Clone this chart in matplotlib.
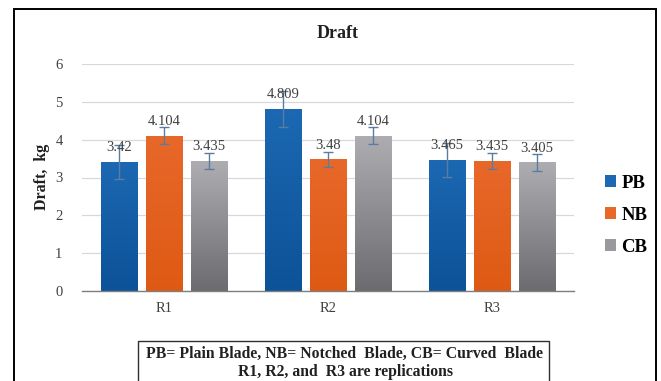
import numpy as np
import matplotlib
matplotlib.use("Agg")
import matplotlib.pyplot as plt
from matplotlib.patches import Patch, Rectangle
from matplotlib.colors import LinearSegmentedColormap

categories = ["R1", "R2", "R3"]
series_names = ["PB", "NB", "CB"]
pb = [3.42, 4.809, 3.465]
nb = [4.104, 3.48, 3.435]
cb = [3.435, 4.104, 3.405]
pb_err = [0.45, 0.47, 0.46]
nb_err = [0.22, 0.20, 0.22]
cb_err = [0.22, 0.22, 0.22]
value_labels_pb = ["3.42", "4.809", "3.465"]
value_labels_nb = ["4.104", "3.48", "3.435"]
value_labels_cb = ["3.435", "4.104", "3.405"]
yticks = [0, 1, 2, 3, 4, 5, 6]

serif = ["Liberation Serif", "DejaVu Serif"]
plt.rcParams["font.family"] = serif

W, H = 661, 381
fig = plt.figure(figsize=(W / 100, H / 100), dpi=100)

# outer frame
fig.patches.append(Rectangle((14 / W, -0.05), (656 - 14) / W, (H - 9) / H + 0.05,
                             transform=fig.transFigure, fill=False,
                             edgecolor="black", linewidth=1.4, zorder=0))

ax = fig.add_axes([82 / W, (H - 291) / H, (574 - 82) / W, (291 - 64) / H])
ax.set_xlim(-0.5, 2.5)
ax.set_ylim(0, 6)
ax.set_yticks(yticks)
ax.set_yticklabels([str(t) for t in yticks], fontsize=10.5, color="#404040")
ax.set_xticks(range(len(categories)))
ax.set_xticklabels(categories, fontsize=10.5, color="#404040")
ax.tick_params(length=0, pad=8)
ax.tick_params(axis="y", pad=14)
for s in ["top", "right", "left"]:
    ax.spines[s].set_visible(False)
ax.spines["bottom"].set_color("#7f7f7f")
ax.spines["bottom"].set_linewidth(1.0)
ax.yaxis.grid(True, color="#d9d9d9", linewidth=0.9)
ax.set_axisbelow(True)

x = np.arange(len(categories))
bw = 0.22
off = 0.274
grads = {
    "PB": ("#1c68b2", "#0c5298"),
    "NB": ("#e8682a", "#de5a14"),
    "CB": ("#aeaeb2", "#6c6c70"),
}
data = [(pb, pb_err, value_labels_pb), (nb, nb_err, value_labels_nb), (cb, cb_err, value_labels_cb)]
for i, (name, (vals, errs, labs)) in enumerate(zip(series_names, data)):
    pos = x + (i - 1) * off
    top_c, bot_c = grads[name]
    bars = ax.bar(pos, vals, width=bw, color=top_c, zorder=2)
    cmap = LinearSegmentedColormap.from_list(name, [bot_c, top_c])
    grad = np.linspace(0, 1, 256).reshape(-1, 1)
    for b in bars:
        x0, y0 = b.get_x(), b.get_y()
        im = ax.imshow(grad, cmap=cmap, origin="lower", aspect="auto",
                       extent=[x0, x0 + b.get_width(), y0, y0 + b.get_height()], zorder=2.1)
        im.set_clip_path(b)
    ax.errorbar(pos, vals, yerr=errs, fmt="none", ecolor="#5a7ca0", elinewidth=1.0,
                capsize=3.5, capthick=1.0, zorder=4)
    for p, v, l in zip(pos, vals, labs):
        ax.text(p, v + 0.2, l, ha="center", va="bottom", fontsize=10.5, color="#404040", zorder=5)
ax.set_xlim(-0.5, 2.5)
ax.set_ylim(0, 6)

fig.text(338 / W, 1 - 33 / H, "Draft", ha="center", va="center", fontsize=13,
         fontweight="bold", color="#202020")
fig.text(42 / W, 1 - 177 / H, "Draft,  kg", ha="center", va="center", rotation=90,
         fontsize=11.5, fontweight="bold", color="#202020")

handles = [Patch(facecolor=grads[n][0] if n != "CB" else "#9a9a9e", edgecolor="none") for n in series_names]
leg = fig.legend(handles, series_names, loc="center left",
                 bbox_to_anchor=(596 / W, 1 - 215 / H), frameon=False,
                 prop={"family": serif, "weight": "bold", "size": 13.5},
                 handlelength=0.55, handleheight=0.55, handletextpad=0.3,
                 labelspacing=0.8, borderpad=0)

# note box
fig.patches.append(Rectangle((138 / W, -0.05), (549 - 138) / W, (H - 341) / H + 0.05,
                             transform=fig.transFigure, facecolor="white",
                             edgecolor="#303030", linewidth=1.0, zorder=1))
fig.text(345 / W, 1 - 354 / H, "PB= Plain Blade, NB= Notched  Blade, CB= Curved  Blade",
         ha="center", va="center", fontsize=11.3, fontweight="bold", color="#202020", zorder=3)
fig.text(345 / W, 1 - 372 / H, "R1, R2, and  R3 are replications",
         ha="center", va="center", fontsize=11.3, fontweight="bold", color="#202020", zorder=3)

fig.savefig("out.png", dpi=100)
